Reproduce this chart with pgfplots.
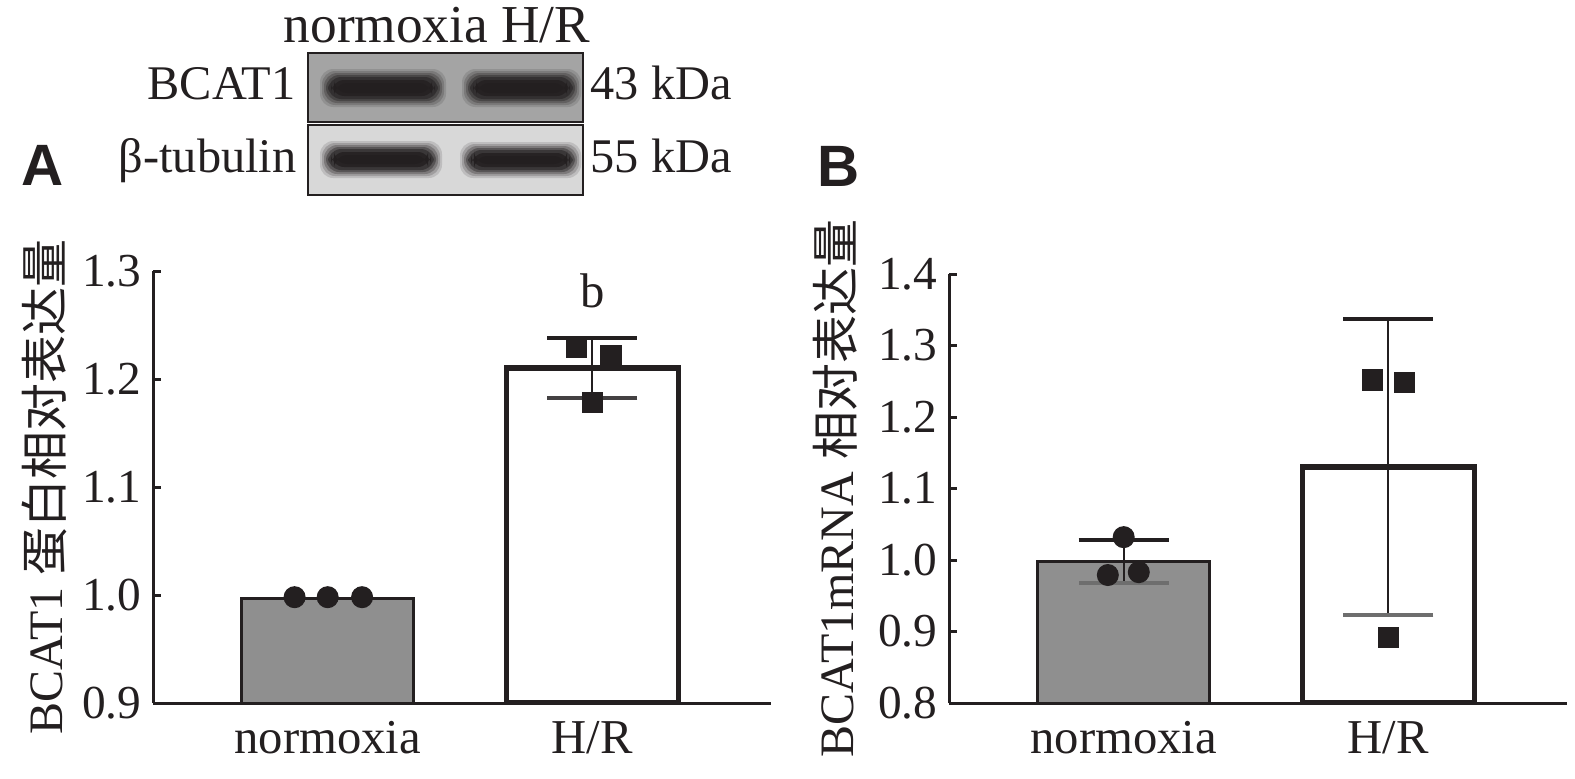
\documentclass[border=0pt]{standalone}
\usepackage{fontspec}
\setmainfont{Liberation Serif}
\newfontfamily\cjk{Noto Sans CJK SC}
\newfontfamily\panelfont{Liberation Sans}
\usepackage{pgfplots}
\pgfplotsset{compat=1.18}
\definecolor{ink}{HTML}{231F20}
\definecolor{barfill}{HTML}{8F8F8F}
\definecolor{capgray}{HTML}{6E6E6E}
\definecolor{wbtop}{HTML}{A4A4A4}
\definecolor{wbbot}{HTML}{D8D8D8}
\newcommand\band[4]{%
  \foreach \e/\o in {8/0.14,6/0.2,4/0.28,2/0.4,0/0.55,-3/0.8,-6/0.9}{%
    \fill[ink, opacity=\o, rounded corners=4pt] (#1-\e,#2-\e) rectangle (#3+\e,#4+\e);
  }}
\pgfplotsset{
  panel/.style={
    scale only axis, anchor=south west,
    width=185.4pt,
    xmin=-0.66, xmax=1.675,
    axis x line*=bottom, axis y line*=left,
    tick align=inside, major tick length=2.4pt,
    axis line style={line width=0.9pt, ink},
    tick style={line width=0.9pt, ink},
    xtick={0,1}, xticklabels={normoxia,H/R},
    xticklabel style={anchor=base, yshift=-15pt, font=\fontsize{14.6}{17}\selectfont},
    yticklabel style={font=\fontsize{14.2}{17}\selectfont},
    tick label style={text=ink},
    label style={font=\fontsize{14.4}{17}\selectfont, text=ink},
    bar width=0.65, bar shift=0pt,
  },
  ebar/.style 2 args={draw=none, mark=none, forget plot,
    error bars/.cd, y dir=#1, y explicit,
    error bar style={line width=0.6pt, ink},
    error mark options={rotate=90, mark size=13.5pt, line width=1.2pt, #2}},
}
\begin{document}
\begin{tikzpicture}[font=\fontsize{14.5}{17}\selectfont]
\useasboundingbox (0pt,0pt) rectangle (472.5pt,-233.4pt);
\begin{scope}[x=0.3pt,y=-0.3pt]
  % western blot
  \fill[wbtop] (308,53) rectangle (583,122);
  \fill[wbbot] (308,125) rectangle (583,195);
  \begin{scope}
    \clip (308,53) rectangle (583,122);
    \band{328}{77}{438}{99}
    \band{470}{77}{573}{99}
  \end{scope}
  \begin{scope}
    \clip (308,125) rectangle (583,195);
    \band{328}{149}{434}{170}
    \band{468}{150}{573}{170}
  \end{scope}
  \draw[ink, line width=0.6pt] (308,53) rectangle (583,122);
  \draw[ink, line width=0.6pt] (308,125) rectangle (583,195);
  \node[anchor=base west, inner sep=0pt, text=ink, font=\fontsize{16}{18}\selectfont] at (283,42) {normoxia H/R};
  \node[anchor=base east, inner sep=0pt, text=ink] at (296,99) {BCAT1};
  \node[anchor=base west, inner sep=0pt, text=ink] at (590,99) {43 kDa};
  \node[anchor=base east, inner sep=0pt, text=ink] at (297,172) {β-tubulin};
  \node[anchor=base west, inner sep=0pt, text=ink] at (590,172) {55 kDa};
  \node[anchor=base west, inner sep=0pt, text=ink, font=\panelfont\bfseries\fontsize{17.5}{20}\selectfont] at (21,185) {A};
  \node[anchor=base west, inner sep=0pt, text=ink, font=\panelfont\bfseries\fontsize{17.5}{20}\selectfont] at (817,186) {B};
\end{scope}

% Panel A
\begin{axis}[panel, at={(45.9pt,-210.9pt)}, height=129.6pt,
  ymin=0.9, ymax=1.3,
  ytick={0.9,1.0,1.1,1.2,1.3}, yticklabels={0.9,1.0,1.1,1.2,1.3},
  ylabel={BCAT1 {\cjk 蛋白相对表达量}},
  ylabel style={at={(axis description cs:-0.175,0.5)}, anchor=center},
]
\addplot[ybar, fill=barfill, draw=ink, line width=0.75pt] coordinates {(0,0.997)};
\addplot[ybar, fill=white, draw=ink, line width=1.65pt] coordinates {(1,1.210)};
\addplot[ebar={plus}{ink}] coordinates {(1,1.210) +- (0,0.028)};
\addplot[ebar={minus}{ink!85!white}] coordinates {(1,1.210) +- (0,0.028)};
\addplot[only marks, mark=*, mark size=3.1pt, ink] coordinates {(-0.125,0.998) (0,0.998) (0.13,0.998)};
\addplot[only marks, mark=square*, mark size=3pt, ink] coordinates {(0.94,1.2296) (1.07,1.222) (1.0,1.178)};
\node[anchor=base, text=ink, inner sep=0pt, font=\fontsize{14.6}{17}\selectfont] at (axis cs:1,1.266) {b};
\end{axis}

% Panel B
\begin{axis}[panel, at={(284.7pt,-210.9pt)}, height=128.7pt,
  ymin=0.8, ymax=1.4,
  ytick={0.8,0.9,1.0,1.1,1.2,1.3,1.4}, yticklabels={0.8,0.9,1.0,1.1,1.2,1.3,1.4},
  ylabel={BCAT1mRNA {\cjk 相对表达量}},
  ylabel style={at={(axis description cs:-0.184,0.5)}, anchor=center},
]
\addplot[ybar, fill=barfill, draw=ink, line width=0.75pt] coordinates {(0,0.998)};
\addplot[ybar, fill=white, draw=ink, line width=1.65pt] coordinates {(1,1.130)};
\addplot[ebar={plus}{ink}] coordinates {(0,0.998) +- (0,0.030) (1,1.130) +- (0,0.207)};
\addplot[ebar={minus}{capgray}] coordinates {(0,0.998) +- (0,0.030) (1,1.130) +- (0,0.207)};
\addplot[only marks, mark=*, mark size=3.1pt, ink] coordinates {(0,1.032) (-0.06,0.979) (0.057,0.983)};
\addplot[only marks, mark=square*, mark size=3pt, ink] coordinates {(0.94,1.252) (1.06,1.248) (1.0,0.892)};
\end{axis}
\end{tikzpicture}
\end{document}
